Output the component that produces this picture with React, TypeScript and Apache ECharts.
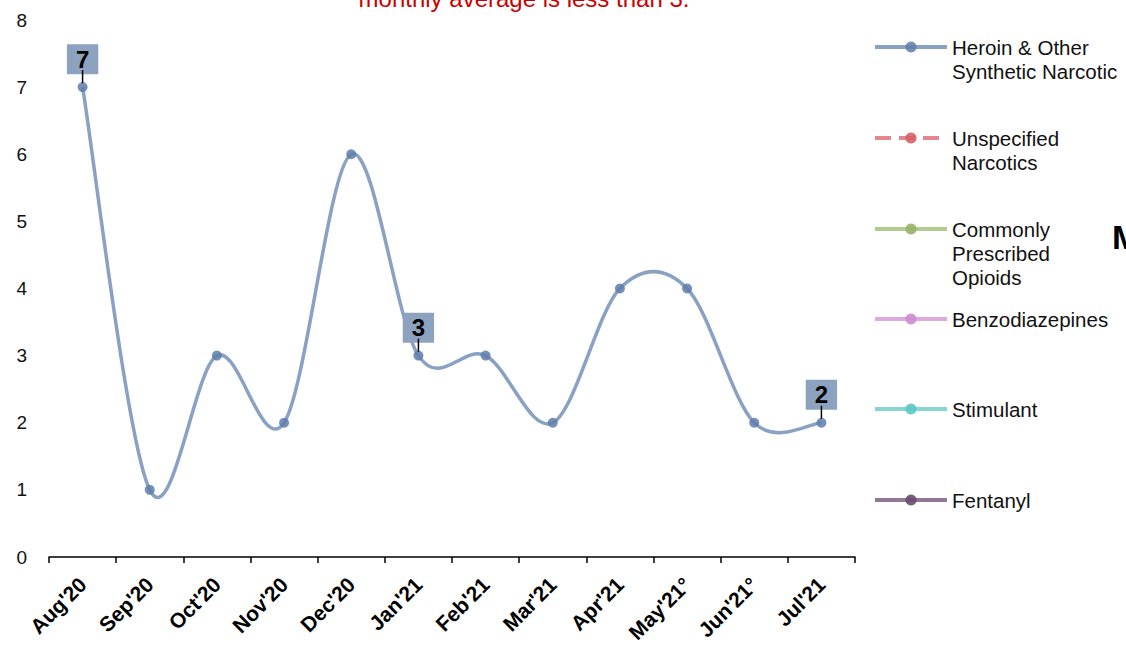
import React, { useEffect, useRef } from "react";
import * as echarts from "echarts";

const categories = ["Aug'20", "Sep'20", "Oct'20", "Nov'20", "Dec'20", "Jan'21", "Feb'21", "Mar'21", "Apr'21", "May'21°", "Jun'21°", "Jul'21"];
const heroinValues = [7, 1, 3, 2, 6, 3, 3, 2, 4, 4, 2, 2];
const labelledIndices = [0, 5, 11];
const yTicks = [0, 1, 2, 3, 4, 5, 6, 7, 8];
const seriesNames = [
  "Heroin & Other\nSynthetic Narcotic",
  "Unspecified\nNarcotics",
  "Commonly\nPrescribed\nOpioids",
  "Benzodiazepines",
  "Stimulant",
  "Fentanyl",
];
const lineColors = ["#89a1c2", "#e3868b", "#b4cb8f", "#dcaadf", "#87d5d1", "#927895"];
const symbolColors = ["rgba(95,125,170,0.85)", "rgba(215,95,102,0.9)", "rgba(150,180,105,0.9)", "rgba(205,140,210,0.9)", "rgba(90,200,195,0.9)", "rgba(105,75,110,0.9)"];
const titleLine = "monthly average is less than 3.";
const FONT = "Arial, 'Liberation Sans', sans-serif";

export default function App() {
  const ref = useRef<HTMLDivElement>(null);
  useEffect(() => {
    if (!ref.current) return;
    const chart = echarts.init(ref.current, undefined, { renderer: "svg" });
    const legendCenters = [47, 138, 229, 319, 409, 500];
    const lh = 24;
    const legends = seriesNames.map((name, i) => {
      const n = name.split("\n").length;
      const prefix = " \n".repeat(n - 1);
      return {
        orient: "vertical",
        left: 873,
        top: legendCenters[i] - (lh / 2) * (2 * n - 1),
        padding: 0,
        itemWidth: 72,
        itemHeight: 14,
        data: [name],
        formatter: (nm: string) => prefix + nm,
        lineStyle: { width: 4, opacity: 1, color: lineColors[i] },
        textStyle: {
          fontFamily: FONT,
          fontSize: 20.5,
          color: "#111",
          lineHeight: lh,
        },
      };
    });
    const n = heroinValues.length;
    const curve = {
      type: "custom",
      z: 1,
      silent: true,
      data: heroinValues.map((v, i) => [i, v]),
      renderItem: (params: any, api: any) => {
        const i = params.dataIndex;
        if (i >= n - 1) return null;
        const pt = (k: number) => api.coord([k, heroinValues[k]]);
        const p1 = pt(i);
        const p2 = pt(i + 1);
        const p0 = i > 0 ? pt(i - 1) : p1;
        const p3 = i + 2 < n ? pt(i + 2) : p2;
        return {
          type: "bezierCurve",
          shape: {
            x1: p1[0], y1: p1[1],
            x2: p2[0], y2: p2[1],
            cpx1: p1[0] + (p2[0] - p0[0]) / 6,
            cpy1: p1[1] + (p2[1] - p0[1]) / 6,
            cpx2: p2[0] - (p3[0] - p1[0]) / 6,
            cpy2: p2[1] - (p3[1] - p1[1]) / 6,
          },
          style: { stroke: lineColors[0], lineWidth: 3.5, fill: "none" },
        };
      },
    };
    const series: any[] = seriesNames.map((name, i) => ({
      name,
      type: "line",
      z: 2,
      symbol: "circle",
      symbolSize: 10,
      lineStyle: { color: lineColors[i], width: 3.5, opacity: i === 0 ? 0 : 1, type: i === 1 ? "dashed" : "solid" },
      itemStyle: { color: symbolColors[i] },
      data: i === 0
        ? heroinValues.map((v, k) => {
            if (!labelledIndices.includes(k)) return v;
            return {
              value: v,
              label: {
                show: true,
                position: "top",
                distance: -1,
                formatter: "{box|{c}}\n{stem|}",
                rich: {
                  box: {
                    backgroundColor: "#8ca2bf",
                    color: "#000",
                    fontWeight: "bold",
                    fontSize: 24,
                    fontFamily: FONT,
                    lineHeight: 22,
                    padding: [3, 9, 3, 9],
                    align: "center",
                  },
                  stem: {
                    backgroundColor: "#000",
                    width: 1.5,
                    height: 13,
                    lineHeight: 13,
                    align: "center",
                  },
                },
              },
            };
          })
        : [],
    }));
    series.push(curve);
    chart.setOption({
      animation: false,
      grid: { left: 49, right: 271, top: 20, bottom: 89, containLabel: false },
      legend: legends,
      xAxis: {
        type: "category",
        data: categories,
        boundaryGap: true,
        axisLine: { lineStyle: { color: "#000", width: 1.5 } },
        axisTick: { show: true, length: 6, lineStyle: { color: "#000", width: 1.5 } },
        axisLabel: {
          rotate: 45,
          fontFamily: FONT,
          fontSize: 21,
          fontWeight: "bold",
          color: "#000",
          margin: 24,
          interval: 0,
        },
      },
      yAxis: {
        type: "value",
        min: yTicks[0],
        max: yTicks[yTicks.length - 1],
        interval: 1,
        axisLine: { show: false },
        axisTick: { show: false },
        splitLine: { show: false },
        axisLabel: { fontFamily: FONT, fontSize: 19, color: "#111", margin: 22 },
      },
      graphic: [
        {
          type: "text",
          x: 524,
          y: -2,
          style: {
            text: titleLine,
            fill: "#cc0000",
            font: "24px " + FONT,
            textAlign: "center",
            textVerticalAlign: "middle",
          },
        },
        {
          type: "text",
          x: 1112,
          y: 237,
          style: {
            text: "M",
            fill: "#000",
            font: "bold 34px " + FONT,
            textAlign: "left",
            textVerticalAlign: "middle",
          },
        },
      ],
      series,
    });
    return () => chart.dispose();
  }, []);
  return <div ref={ref} style={{ width: 1126, height: 646, position: "absolute", left: 0, top: 0 }} />;
}
